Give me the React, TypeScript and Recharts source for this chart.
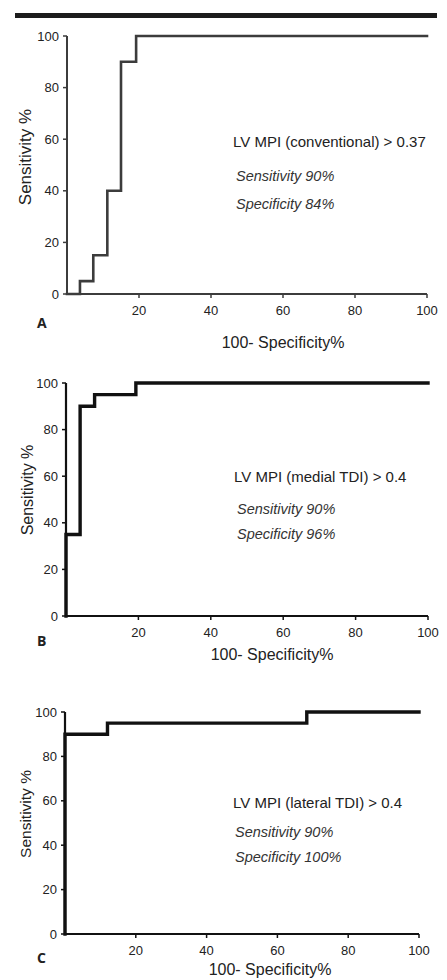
import { Line, LineChart, XAxis, YAxis } from "recharts";

// shared axis ticks
const xTicks = [20, 40, 60, 80, 100];
const yTicks = [0, 20, 40, 60, 80, 100];

// ROC points (100 - specificity %, sensitivity %)
const conventionalFpr = [0, 3.6, 7.3, 11.2, 15, 19.2, 100];
const conventionalSens = [0, 5, 15, 40, 90, 100, 100];

const medialFpr = [0, 0, 3.9, 7.9, 19.3, 100];
const medialSens = [0, 35, 90, 95, 100, 100];

const lateralFpr = [0, 0, 12, 68.3, 100];
const lateralSens = [0, 90, 95, 100, 100];

const titles = [
  "LV MPI (conventional) > 0.37",
  "LV MPI (medial TDI) > 0.4",
  "LV MPI (lateral TDI) > 0.4",
];
const sensitivityNotes = ["Sensitivity 90%", "Sensitivity 90%", "Sensitivity 90%"];
const specificityNotes = ["Specificity 84%", "Specificity 96%", "Specificity 100%"];
const panelLetters = ["A", "B", "C"];

const toRows = (fpr: number[], sens: number[]) => fpr.map((x, i) => ({ fpr: x, sens: sens[i] }));

const FONT = "'Liberation Sans', Arial, sans-serif";

type PanelLayout = {
  top: number;
  margin: { top: number; right: number; left: number; bottom: number };
  color: string;
  axisWidth: number;
  lineWidth: number;
  yTitle: { x: number; y: number; size: number };
  xTitle: { x: number; y: number };
  letter: { x: number; y: number };
  notes: { x: number; y: number }[];
};

const layouts: PanelLayout[] = [
  {
    top: 0,
    margin: { top: 36, right: 20, left: 27, bottom: 6 },
    color: "#3c3c3c",
    axisWidth: 2,
    lineWidth: 2.6,
    yTitle: { x: 25, y: 157, size: 17 },
    xTitle: { x: 283, y: 348 },
    letter: { x: 37, y: 328 },
    notes: [
      { x: 233, y: 147 },
      { x: 236, y: 181 },
      { x: 236, y: 209 },
    ],
  },
  {
    top: 330,
    margin: { top: 53, right: 19, left: 26, bottom: 14 },
    color: "#111",
    axisWidth: 2.2,
    lineWidth: 3.4,
    yTitle: { x: 27, y: 160, size: 16 },
    xTitle: { x: 272, y: 330 },
    letter: { x: 37, y: 316 },
    notes: [
      { x: 234, y: 152 },
      { x: 237, y: 184 },
      { x: 237, y: 209 },
    ],
  },
  {
    top: 650,
    margin: { top: 62, right: 28, left: 25, bottom: 16 },
    color: "#111",
    axisWidth: 2.2,
    lineWidth: 3.4,
    yTitle: { x: 25, y: 164, size: 15.5 },
    xTitle: { x: 270, y: 325 },
    letter: { x: 37, y: 313 },
    notes: [
      { x: 233, y: 158 },
      { x: 235, y: 187 },
      { x: 235, y: 212 },
    ],
  },
];

const panelData = [
  toRows(conventionalFpr, conventionalSens),
  toRows(medialFpr, medialSens),
  toRows(lateralFpr, lateralSens),
];

function RocPanel({ index }: { index: number }) {
  const l = layouts[index];
  const tick = { fill: "#222", fontSize: 13, fontFamily: FONT };
  return (
    <div style={{ position: "absolute", left: 0, top: l.top, width: 447, height: 330 }}>
      <LineChart width={447} height={330} data={panelData[index]} margin={l.margin}>
        <XAxis
          type="number"
          dataKey="fpr"
          domain={[0, 100]}
          ticks={xTicks}
          height={30}
          stroke={l.color}
          strokeWidth={l.axisWidth}
          tickSize={4}
          tickMargin={8}
          tick={tick}
          tickLine={{ stroke: l.color, strokeWidth: 1.5 }}
        />
        <YAxis
          type="number"
          dataKey="sens"
          domain={[0, 100]}
          ticks={yTicks}
          width={40}
          stroke={l.color}
          strokeWidth={l.axisWidth}
          tickSize={4}
          tickMargin={4}
          tick={tick}
          tickLine={{ stroke: l.color, strokeWidth: 1.5 }}
        />
        <Line
          type="stepAfter"
          dataKey="sens"
          stroke={l.color}
          strokeWidth={l.lineWidth}
          strokeLinejoin="miter"
          strokeLinecap="square"
          dot={false}
          isAnimationActive={false}
        />
      </LineChart>
      <svg
        width={447}
        height={360}
        style={{ position: "absolute", left: 0, top: 0, pointerEvents: "none", overflow: "visible" }}
        fontFamily={FONT}
      >
        <text
          x={l.yTitle.x}
          y={l.yTitle.y}
          fontSize={l.yTitle.size}
          fill="#222"
          textAnchor="middle"
          dominantBaseline="central"
          transform={`rotate(-90 ${l.yTitle.x} ${l.yTitle.y})`}
        >
          Sensitivity %
        </text>
        <text x={l.xTitle.x} y={l.xTitle.y} fontSize={16} fill="#222" textAnchor="middle">
          100- Specificity%
        </text>
        <text
          x={l.letter.x}
          y={l.letter.y}
          fontSize={14}
          fontWeight="bold"
          fontFamily="'Open Sans', sans-serif"
          fill="#222"
        >
          {panelLetters[index]}
        </text>
        <text x={l.notes[0].x} y={l.notes[0].y} fontSize={15} fill="#222">
          {titles[index]}
        </text>
        <text x={l.notes[1].x} y={l.notes[1].y} fontSize={14.5} fontStyle="italic" fill="#333">
          {sensitivityNotes[index]}
        </text>
        <text x={l.notes[2].x} y={l.notes[2].y} fontSize={14.5} fontStyle="italic" fill="#333">
          {specificityNotes[index]}
        </text>
      </svg>
    </div>
  );
}

export default function App() {
  return (
    <div
      style={{
        position: "absolute",
        left: 0,
        top: 0,
        width: 447,
        height: 980,
        background: "#fff",
        overflow: "hidden",
      }}
    >
      <div style={{ position: "absolute", left: 15, top: 13, width: 422, height: 4.5, background: "#1c1c1c" }} />
      <RocPanel index={0} />
      <RocPanel index={1} />
      <RocPanel index={2} />
    </div>
  );
}
